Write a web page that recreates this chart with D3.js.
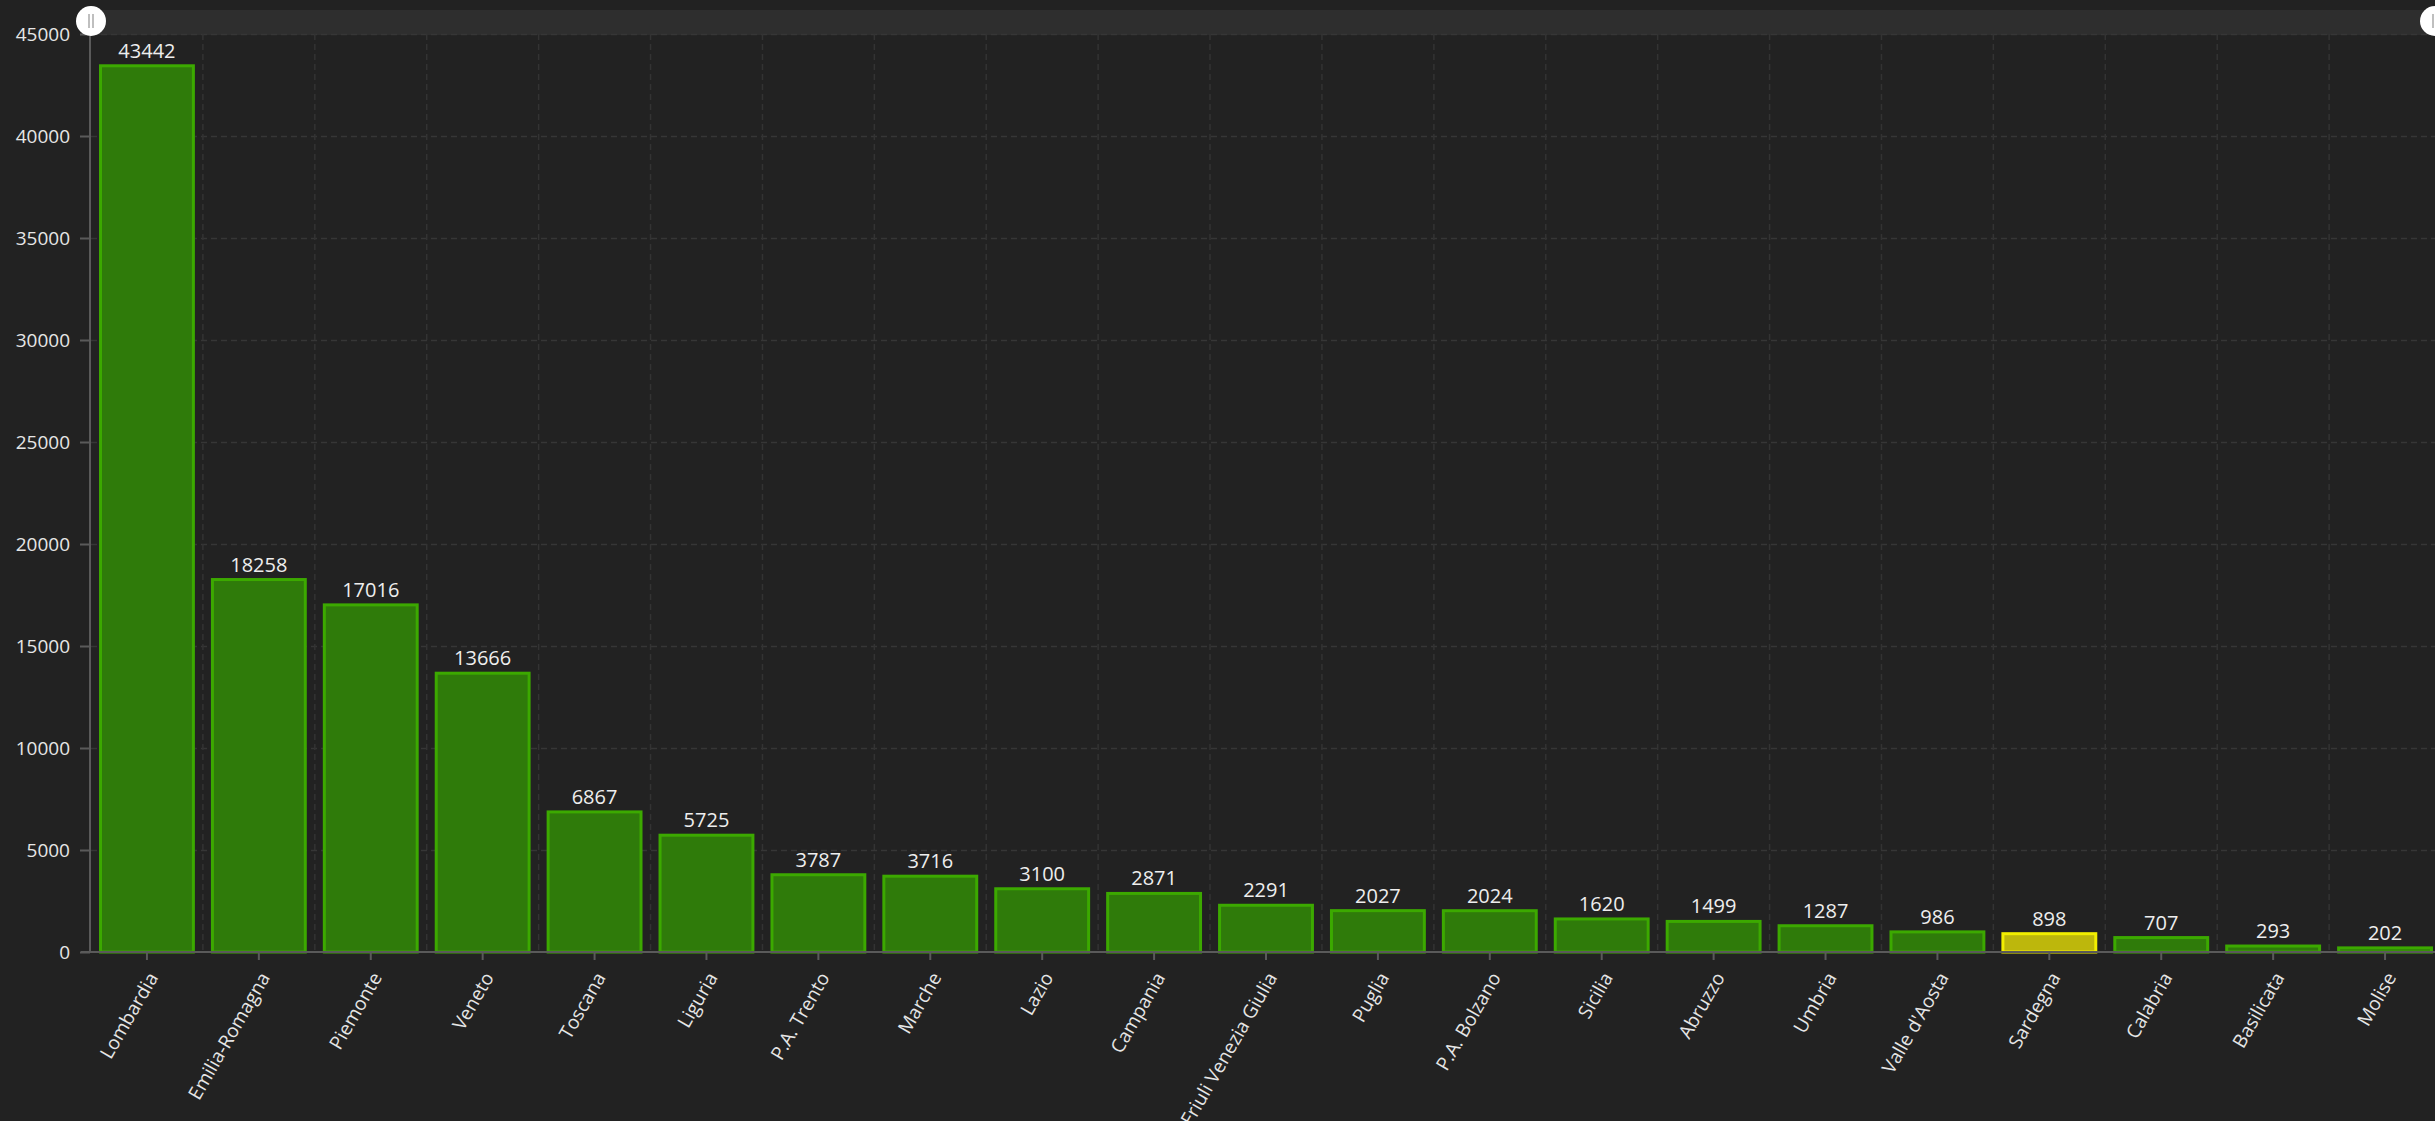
<!DOCTYPE html>
<html lang="it">
<head>
<meta charset="UTF-8">
<title>Regioni</title>
<script src="https://cdn.jsdelivr.net/npm/d3@7"></script>
<style>
  html, body { margin: 0; padding: 0; background: #222222; overflow: hidden; }
  text { font-family: "Open Sans", "Noto Sans", sans-serif; }
</style>
</head>
<body>
<script>
var regions = ["Lombardia", "Emilia-Romagna", "Piemonte", "Veneto", "Toscana", "Liguria",
  "P.A. Trento", "Marche", "Lazio", "Campania", "Friuli Venezia Giulia", "Puglia",
  "P.A. Bolzano", "Sicilia", "Abruzzo", "Umbria", "Valle d'Aosta", "Sardegna",
  "Calabria", "Basilicata", "Molise"];
var values = [43442, 18258, 17016, 13666, 6867, 5725, 3787, 3716, 3100, 2871, 2291,
  2027, 2024, 1620, 1499, 1287, 986, 898, 707, 293, 202];
var highlighted = ["Sardegna"];
var yTicks = [0, 5000, 10000, 15000, 20000, 25000, 30000, 35000, 40000, 45000];

var W = 2435, H = 1121;
var m = { left: 91, right: -6, top: 34, bottom: 168 };

var svg = d3.select("body").append("svg")
  .attr("width", W)
  .attr("height", H)
  .style("display", "block");

var x = d3.scaleBand()
  .domain(regions)
  .range([m.left, W - m.right])
  .paddingInner(0.17)
  .paddingOuter(0.085);

var y = d3.scaleLinear()
  .domain([0, 45000])
  .range([H - m.bottom - 1, m.top]);

// slider on top
svg.append("rect")
  .attr("x", m.left).attr("y", 10)
  .attr("width", W - m.left).attr("height", 25)
  .attr("fill", "#2e2e2e");

// grid: horizontal
svg.append("g")
  .selectAll("line")
  .data(yTicks.slice(1))
  .enter().append("line")
  .attr("x1", m.left).attr("x2", W)
  .attr("y1", function(d) { return y(d) + 0.5 })
  .attr("y2", function(d) { return y(d) + 0.5 })
  .attr("stroke", "#363636")
  .attr("stroke-width", 1.5)
  .attr("stroke-dasharray", "6,4");

// grid: vertical at band boundaries
var step = x.step();
svg.append("g")
  .selectAll("line")
  .data(regions.slice(1))
  .enter().append("line")
  .attr("x1", function(d) { return x(d) - (step - x.bandwidth()) / 2 })
  .attr("x2", function(d) { return x(d) - (step - x.bandwidth()) / 2 })
  .attr("y1", y(45000)).attr("y2", y(0))
  .attr("stroke", "#333333")
  .attr("stroke-width", 1.5)
  .attr("stroke-dasharray", "6,4");

// y axis
var yAxis = svg.append("g")
  .attr("transform", "translate(" + (m.left - 1) + ",0)")
  .call(d3.axisLeft(y).tickValues(yTicks).tickSize(10).tickPadding(10).tickFormat(d3.format("d")));
yAxis.select(".domain").attr("stroke", "#5a5a5a").attr("stroke-width", 2).attr("d", "M0," + y(0) + "V" + y(45000));
yAxis.selectAll(".tick line").attr("stroke", "#5a5a5a").attr("stroke-width", 2);
yAxis.selectAll(".tick text").attr("fill", "#e6e6e6").style("font-size", "19px");

// bars
svg.append("g")
  .selectAll("rect")
  .data(regions)
  .enter().append("rect")
  .attr("x", function(d) { return x(d) })
  .attr("y", function(d, i) { return y(values[i]) })
  .attr("width", x.bandwidth())
  .attr("height", function(d, i) { return y(0) - y(values[i]) })
  .attr("fill", function(d) { return highlighted.indexOf(d) >= 0 ? "#bdb70c" : "#2f7b0a" })
  .attr("stroke", function(d) { return highlighted.indexOf(d) >= 0 ? "#f2ee00" : "#3ca900" })
  .attr("stroke-width", 3);

// value labels
svg.append("g")
  .selectAll("text")
  .data(regions)
  .enter().append("text")
  .attr("x", function(d) { return x(d) + x.bandwidth() / 2 })
  .attr("y", function(d, i) { return y(values[i]) - 8 })
  .attr("text-anchor", "middle")
  .attr("fill", "#eeeeee")
  .style("font-size", "20px")
  .text(function(d, i) { return values[i] });

// x axis
var xAxis = svg.append("g")
  .attr("transform", "translate(0," + y(0) + ")")
  .call(d3.axisBottom(x).tickSize(8).tickPadding(6));
xAxis.select(".domain").attr("stroke", "#5a5a5a").attr("stroke-width", 2).attr("d", "M" + (m.left - 10) + ",0H" + W);
xAxis.selectAll(".tick line").attr("stroke", "#5a5a5a").attr("stroke-width", 2);
xAxis.selectAll(".tick text")
  .attr("fill", "#e6e6e6")
  .style("font-size", "19px")
  .attr("text-anchor", "end")
  .attr("dy", "0.35em")
  .attr("transform", "translate(6,22) rotate(-60)")
  .attr("x", 0).attr("y", 0);

// slider handles
[m.left, W].forEach(function(cx) {
  svg.append("circle")
    .attr("cx", cx).attr("cy", 21).attr("r", 15)
    .attr("fill", "#ffffff");
  svg.append("line")
    .attr("x1", cx - 2).attr("x2", cx - 2).attr("y1", 14).attr("y2", 28)
    .attr("stroke", "#aaaaaa").attr("stroke-width", 1.5);
  svg.append("line")
    .attr("x1", cx + 2).attr("x2", cx + 2).attr("y1", 14).attr("y2", 28)
    .attr("stroke", "#aaaaaa").attr("stroke-width", 1.5);
});
</script>
</body>
</html>
